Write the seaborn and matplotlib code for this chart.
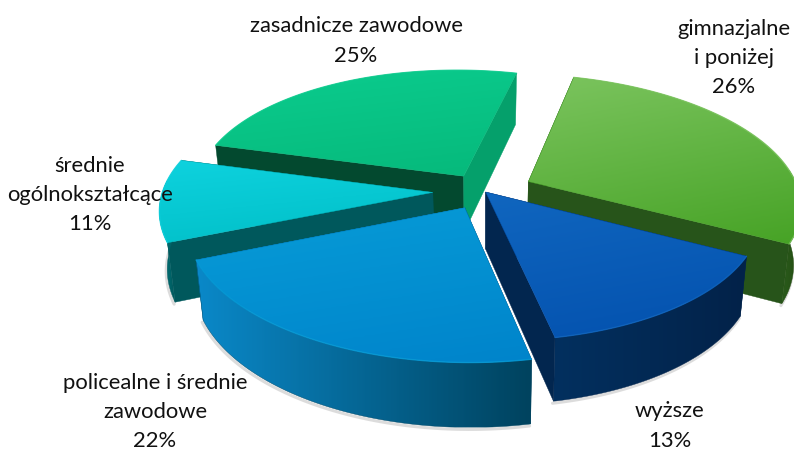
import numpy as np
import matplotlib.pyplot as plt
import seaborn as sns
from matplotlib.patches import Polygon

labels = ['gimnazjalne\ni poniżej\n26%', 'wyższe\n13%', 'policealne i średnie\nzawodowe\n22%',
          'średnie\nogólnokształcące\n11%', 'zasadnicze zawodowe\n25%']
shares = [26, 13, 22, 11, 25]
explode = [0.185, 0.01, 0.15, 0.19, 0.14]
top_light = ['#7bc45e', '#1066bf', '#079cd7', '#0ed2de', '#0bcc8e']
top_dark = ['#47a326', '#0351ae', '#0084cb', '#00bec6', '#06b97b']
wall_light = ['#2a5a1c', '#03305f', '#0a88c8', '#007f85', '#05a670']
wall_dark = ['#234c10', '#022249', '#00435f', '#00585c', '#03492f']
start_wall = ['#2a5a1c', '#022a58', '#00435f', '#00585c', '#03492f']
end_wall = ['#27541a', '#02264f', '#0a88c8', '#00585c', '#05a06b']
label_x = [734, 670, 155, 90, 356]
label_y = [58, 426, 412, 195, 41]
draw_order = [4, 3, 0, 1, 2]

start_angle = 70.5
cx, cy = 484, 191
rx, ry = 270, 126
persp = 0.15
warp = 5
depth = 57
shear = 9

sns.set_theme(style='white')
plt.rcParams['font.family'] = ['Lato', 'DejaVu Sans']

fig = plt.figure(figsize=(7.94, 4.5), dpi=100)
ax = fig.add_axes([0, 0, 1, 1])
ax.set_xlim(0, 794)
ax.set_ylim(450, 0)
ax.axis('off')


def project(u, v, z=0.0):
    p = 1 / (1 + persp * v)
    shrink = 1 - 0.024 * z
    x = cx + rx * u * p * shrink - shear * v
    y = cy - ry * v * p + depth * z * p ** 0.7
    return np.column_stack([x, y])


def view_angle(deg):
    # the camera is turned a little, angles do not stay even on screen
    return np.radians(deg + warp * np.sin(np.radians(deg)))


def face(pts, light, dark, zorder, angle=0.0):
    # gradient image clipped to the polygon
    cmap = sns.blend_palette([light, dark], as_cmap=True)
    x0, y0 = pts.min(axis=0)
    x1, y1 = pts.max(axis=0)
    xx, yy = np.meshgrid(np.linspace(0, 1, 60), np.linspace(0, 1, 60))
    grad = (1 - angle) * yy + angle * xx
    im = ax.imshow(grad, cmap=cmap, extent=[x0, x1, y1, y0], aspect='auto',
                   zorder=zorder, vmin=0, vmax=1)
    clip = Polygon(pts, closed=True, transform=ax.transData, fc='none', ec='none')
    ax.add_patch(clip)
    im.set_clip_path(clip)
    ax.add_patch(Polygon(pts, closed=True, fc='none', ec=dark, lw=0.3, zorder=zorder))


sweeps = np.array(shares) / sum(shares) * 360
ends = start_angle - np.cumsum(sweeps)
starts = ends + sweeps

z = 1
for i in draw_order:
    th = view_angle(np.linspace(starts[i], ends[i], 120))
    mid = view_angle((starts[i] + ends[i]) / 2)
    ou, ov = explode[i] * np.cos(mid), explode[i] * np.sin(mid)
    u = ou + np.cos(th)
    v = ov + np.sin(th)
    a_u, a_v = np.array([ou]), np.array([ov])
    front = np.sin(th) < 0.1

    # soft shadow under the outer wall
    if front.any():
        low = project(u[front], v[front], 1)
        ax.plot(low[:, 0] - 1, low[:, 1] + 2, color='#777777', lw=2.2, alpha=0.25, zorder=z)
        z += 1

    # walls first, the top face hides whatever faces backwards
    for edge_u, edge_v, col in [(u[0], v[0], start_wall[i]), (u[-1], v[-1], end_wall[i])]:
        eu = np.array([ou, edge_u])
        ev = np.array([ov, edge_v])
        pts = np.vstack([project(eu, ev, 0), project(eu[::-1], ev[::-1], 1)])
        ax.add_patch(Polygon(pts, closed=True, fc=col, ec=col, lw=0.3, zorder=z))
        z += 1

    rim = project(u, v, 0)
    if front.any():
        pts = np.vstack([project(u[front], v[front], 0), project(u[front][::-1], v[front][::-1], 1)])
        face(pts, wall_light[i], wall_dark[i], z, angle=1.0)
        z += 1

    top = np.vstack([project(a_u, a_v, 0), rim])
    face(top, top_light[i], top_dark[i], z, angle=0.25)
    z += 1
    ax.plot(rim[:, 0], rim[:, 1], color=top_light[i], lw=1.0, alpha=0.8, zorder=z)
    z += 1

ax.set_xlim(0, 794)
ax.set_ylim(450, 0)

for name, x, y in zip(labels, label_x, label_y):
    ax.text(x, y, name, ha='center', va='center', fontsize=15.8, color='#111111',
            linespacing=1.58, zorder=z + 1)

fig.savefig('out.png', dpi=100)
